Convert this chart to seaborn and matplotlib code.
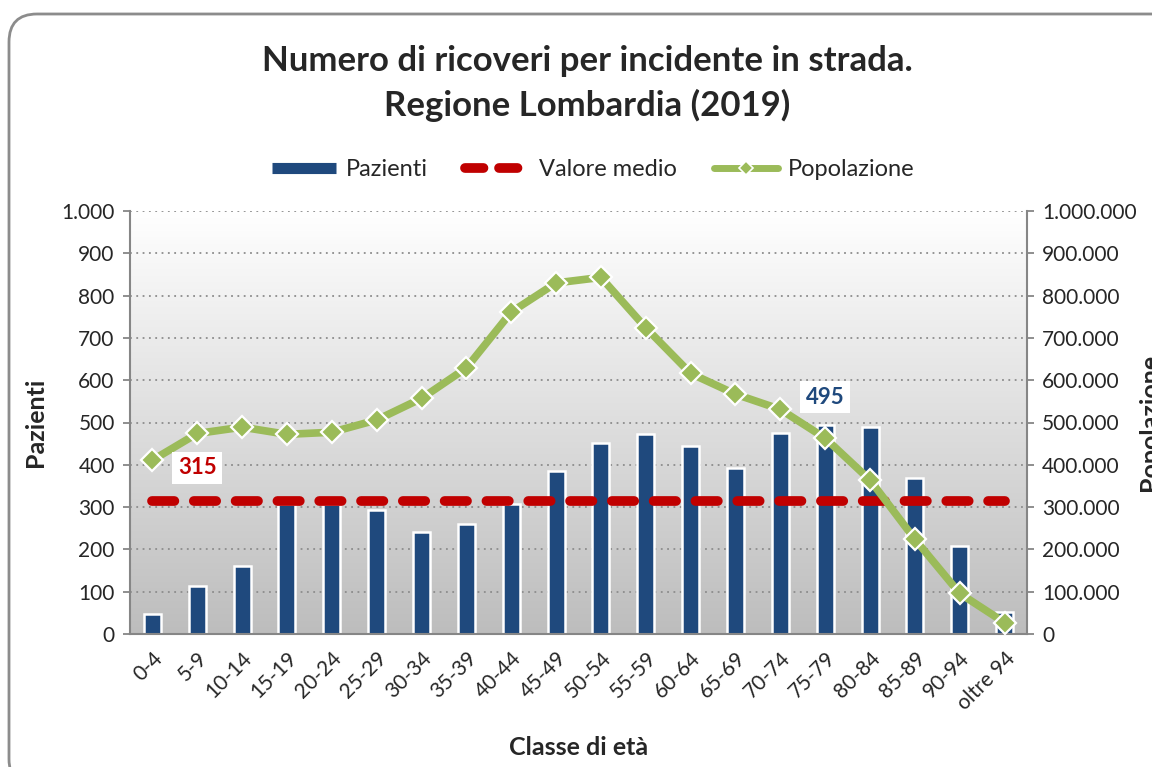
import numpy as np
import pandas as pd
import seaborn as sns
import matplotlib.pyplot as plt
import matplotlib.transforms as mtransforms
from matplotlib.lines import Line2D
from matplotlib.patches import FancyBboxPatch
from matplotlib.colors import LinearSegmentedColormap
from matplotlib.ticker import FuncFormatter, MultipleLocator, FixedLocator

# dati
classi = ['0-4', '5-9', '10-14', '15-19', '20-24', '25-29', '30-34', '35-39',
          '40-44', '45-49', '50-54', '55-59', '60-64', '65-69', '70-74',
          '75-79', '80-84', '85-89', '90-94', 'oltre 94']
pazienti = [47, 113, 161, 308, 308, 294, 240, 260, 307, 385,
            452, 473, 445, 393, 476, 495, 490, 368, 209, 52]
popolazione = [411000, 474000, 489000, 472000, 477000, 506000, 557000, 629000,
               761000, 830000, 843000, 724000, 616000, 567000, 531000, 463000,
               364000, 224000, 96000, 27000]
valore_medio = 315
classe_max = '75-79'

BLU = '#1f497d'
ROSSO = '#c00000'
VERDE = '#9bbb59'
GRIGIO = '#868686'

sns.set_style('white')
plt.rcParams['font.family'] = ['Lato', 'DejaVu Sans']

df = pd.DataFrame({'Classe': classi, 'Pazienti': pazienti, 'Popolazione': popolazione})

fig = plt.figure(figsize=(11.52, 7.67), dpi=100)

# cornice arrotondata del grafico
cornice = FancyBboxPatch((9, -20), 1170, 773, boxstyle='round,pad=0,rounding_size=28',
                         transform=mtransforms.IdentityTransform(),
                         facecolor='white', edgecolor='#8c8c8c', linewidth=2, zorder=-10)
fig.patches.append(cornice)

ax = fig.add_axes([130 / 1152, 1 - 634 / 767, 897 / 1152, 423 / 767])

sns.barplot(data=df, x='Classe', y='Pazienti', color=BLU, saturation=1, width=0.38,
            edgecolor='white', linewidth=1.8, ax=ax, zorder=2)

# sfondo sfumato bianco -> grigio
sfumatura = LinearSegmentedColormap.from_list('sf', ['#ffffff', '#bdbdbd'])
ax.imshow(np.linspace(0, 1, 256).reshape(-1, 1), extent=[-0.5, 19.5, 0, 1000],
          aspect='auto', cmap=sfumatura, zorder=-1)

x = np.arange(len(classi))
ax.plot([x[0], x[-1]], [valore_medio, valore_medio], color=ROSSO, lw=7,
        dashes=(2.3, 2.0), dash_capstyle='round', zorder=3)

ax.set_xlim(-0.5, 19.5)
ax.set_ylim(0, 1000)
ax.yaxis.set_major_locator(MultipleLocator(100))
punto = FuncFormatter(lambda v, p: f'{int(v):,}'.replace(',', '.'))
ax.yaxis.set_major_formatter(punto)
ax.yaxis.grid(True, linestyle=(0, (1, 2.5)), color='#8c8c8c', lw=1.3)
ax.set_axisbelow(True)

ax.set_xticks(x)
ax.set_xticklabels(classi, rotation=45, ha='right', rotation_mode='anchor', fontsize=15)
ax.xaxis.set_minor_locator(FixedLocator(np.arange(-0.5, 20, 1)))
ax.tick_params(axis='x', which='major', length=0, pad=10)
ax.tick_params(axis='x', which='minor', length=6, width=1.3, color=GRIGIO, direction='out')
ax.tick_params(axis='y', length=5, width=1.3, color=GRIGIO, direction='out', labelsize=15, pad=6)
for lato in ['left', 'bottom']:
    ax.spines[lato].set_color(GRIGIO)
    ax.spines[lato].set_linewidth(1.5)
ax.spines['top'].set_visible(False)
ax.spines['right'].set_visible(False)

ax.set_xlabel('Classe di età', fontsize=18, fontweight='bold')
ax.xaxis.set_label_coords(0.5, -0.24)
ax.set_ylabel('Pazienti', fontsize=18, fontweight='bold')
ax.yaxis.set_label_coords(-0.093, 0.5)

# asse secondario: popolazione
ax2 = ax.twinx()
sns.lineplot(x=x, y=popolazione, ax=ax2, color=VERDE, lw=5.5, marker='D', markersize=11,
             markeredgecolor='white', markeredgewidth=1.6, zorder=4)
ax2.set_ylim(0, 1000000)
ax2.yaxis.set_major_locator(MultipleLocator(100000))
ax2.yaxis.set_major_formatter(punto)
ax2.tick_params(axis='y', length=5, width=1.3, color=GRIGIO, direction='out', labelsize=15, pad=6)
for lato in ['left', 'top', 'bottom']:
    ax2.spines[lato].set_visible(False)
ax2.spines['right'].set_color(GRIGIO)
ax2.spines['right'].set_linewidth(1.5)
ax2.set_ylabel('Popolazione', fontsize=18, fontweight='bold')
ax2.yaxis.set_label_coords(1.124, 0.5)

# etichette dei valori
ax2.text(1.0, 393, str(valore_medio), transform=ax.transData, color=ROSSO, fontsize=16,
         fontweight='bold', ha='center', va='center', zorder=6,
         bbox=dict(facecolor='white', edgecolor='none', pad=4))
i_max = classi.index(classe_max)
ax2.text(i_max, 560, str(pazienti[i_max]), transform=ax.transData, color=BLU, fontsize=16,
         fontweight='bold', ha='center', va='center', zorder=6,
         bbox=dict(facecolor='white', edgecolor='none', pad=4))

# titolo
fig.text(0.51, 1 - 61 / 767, 'Numero di ricoveri per incidente in strada.', ha='center',
         va='center', fontsize=25, fontweight='bold')
fig.text(0.51, 1 - 105 / 767, 'Regione Lombardia (2019)', ha='center',
         va='center', fontsize=25, fontweight='bold')

# legenda
maniglie = [
    Line2D([], [], color=BLU, lw=8, solid_capstyle='butt'),
    Line2D([], [], color=ROSSO, lw=7, dashes=(1.9, 1.6), dash_capstyle='round'),
    Line2D([], [], color=VERDE, lw=5, marker='D', markersize=7,
           markeredgecolor='white', markeredgewidth=1.2),
]
fig.legend(maniglie, ['Pazienti', 'Valore medio', 'Popolazione'], loc='center',
           bbox_to_anchor=(0.515, 1 - 170 / 767), ncol=3, frameon=False, fontsize=17,
           handlelength=2.7, columnspacing=1.6, handletextpad=0.4)

fig.savefig('out.png', dpi=100)
